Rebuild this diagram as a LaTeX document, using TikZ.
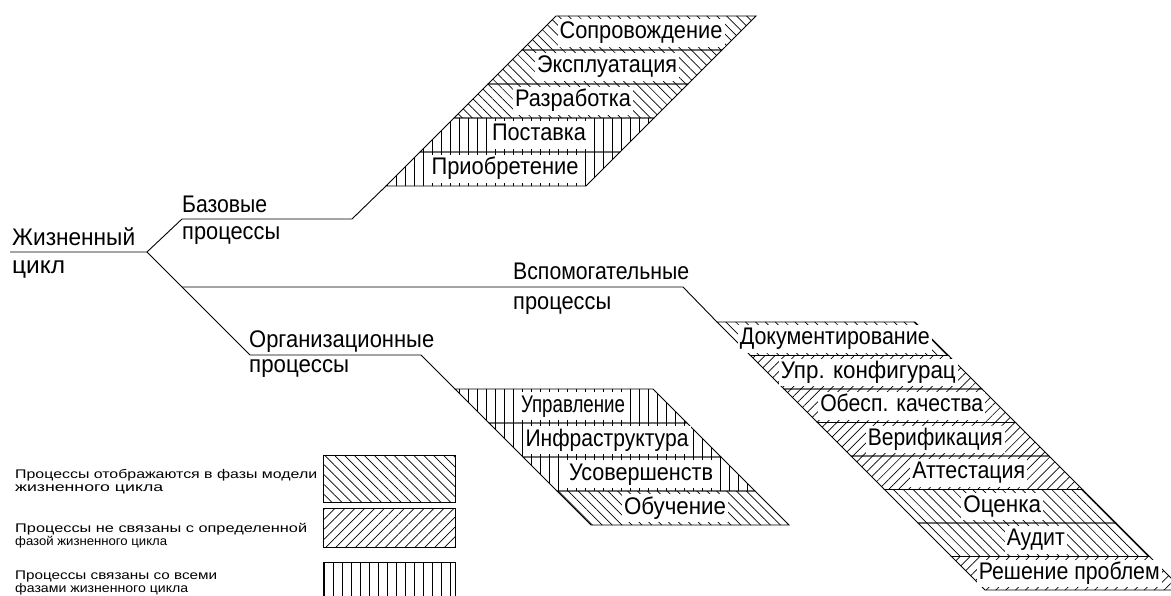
\documentclass[tikz,border=0pt]{standalone}
\usepackage{fontspec}
\usepackage{graphicx}
\setmainfont{Liberation Sans}
\usetikzlibrary{patterns.meta}
\newcommand\hfit[2]{\sbox0{#2}\pgfmathsetmacro\hfitf{(#1)/(\the\wd0)}\scalebox{\hfitf}[1]{\usebox0}}
\tikzset{
  nw/.style={pattern={Lines[angle=-45,distance=7pt,line width=0.7pt]}},
  ne/.style={pattern={Lines[angle=45,distance=7pt,line width=0.7pt]}},
  vl/.style={pattern={Lines[angle=90,distance=9pt,line width=0.7pt]}},
  edgeline/.style={line width=0.9pt,black},
  lbl/.style={anchor=base west,inner sep=0pt,font=\fontsize{24}{24}\selectfont},
  leg/.style={anchor=base west,inner sep=0pt,font=\fontsize{12.5}{12.5}\selectfont},
  bandtext/.style={fill=white,inner xsep=2pt,inner ysep=0pt,font=\fontsize{24}{24}\selectfont,text height=17pt,text depth=5pt},
}
% #1 name, #2 x top-left, #3 y top, #4 bottom shift, #5 height, #6 width, #7 pattern, #8 text, #9 text width
\newcommand\band[9]{%
  \coordinate (#1-tl) at (#2,#3);
  \path[#7] (#2,#3) -- ++(#6,0) -- ++(#4,#5) -- ++(-#6,0) -- cycle;
  \draw[edgeline] (#2,#3) -- ++(#6,0) -- ++(#4,#5) -- ++(-#6,0) -- cycle;
  \coordinate (#1-bl) at (#2+#4,#3+#5);
  \node[bandtext,minimum height=#5-6] (#1) at (#2+#6/2+#4/2+2,#3+#5/2) {\hfit{#9}{#8}};
}
\begin{document}
\begin{tikzpicture}[x=1pt,y=-1pt]
\useasboundingbox (0,0) rectangle (1171,596);
\clip (0,0) rectangle (1171,596);

% top stack (basic processes)
\band{T1}{556}{16}{-34}{34}{200}{nw}{Сопровождение}{163}
\band{T2}{522}{50}{-34}{34}{200}{nw}{Эксплуатация}{140}
\band{T3}{488}{84}{-34}{34}{200}{nw}{Разработка}{116}
\band{T4}{454}{118}{-34}{34}{200}{vl}{Поставка}{94}
\band{T5}{420}{152}{-34}{34}{200}{vl}{Приобретение}{147}

% middle stack (organizational processes)
\band{M1}{455}{389}{34}{34}{198}{vl}{Управление}{104}
\band{M2}{489}{423}{34}{34}{198}{vl}{Инфраструктура}{163}
\band{M3}{523}{457}{34}{34}{198}{vl}{Усовершенств}{144}
\band{M4}{557}{491}{34}{34}{198}{nw}{Обучение}{102}

% right stack (supporting processes)
\band{R1}{717}{322}{33.5}{33.5}{198}{nw}{Документирование}{190}
\band{R2}{750.5}{355.5}{33.5}{33.5}{198}{ne}{Упр. конфигурац}{175}
\band{R3}{784}{389}{33.5}{33.5}{198}{ne}{Обесп. качества}{163}
\band{R4}{817.5}{422.5}{33.5}{33.5}{198}{ne}{Верификация}{135}
\band{R5}{851}{456}{33.5}{33.5}{198}{ne}{Аттестация}{113}
\band{R6}{884.5}{489.5}{33.5}{33.5}{198}{nw}{Оценка}{78}
\band{R7}{918}{523}{33.5}{33.5}{198}{nw}{Аудит}{58}
\band{R8}{951.5}{556.5}{33.5}{33.5}{198}{ne}{Решение проблем}{181}

% tree
\coordinate (rootL) at (10,252);
\coordinate (root) at (147,252);
\coordinate (b1) at (182,219);
\coordinate (b2) at (352,219);
\coordinate (v1) at (182,287);
\coordinate (v2) at (683,287);
\coordinate (o1) at (250,355);
\coordinate (o2) at (421,355);
\draw[edgeline] (rootL) -- (root) -- (b1) -- (b2) -- (T5-bl);
\draw[edgeline] (root) -- (v1) -- (v2) -- (R1-tl);
\draw[edgeline] (v1) -- (o1) -- (o2) -- (M1-tl);

% labels
\node[lbl] (life1) at (12,246) {\hfit{123}{Жизненный}};
\node[lbl] (life2) at (12,274) {\hfit{53}{цикл}};
\node[lbl] (base1) at (182,213) {\hfit{85}{Базовые}};
\node[lbl] (base2) at (182,240) {\hfit{98}{процессы}};
\node[lbl] (sup1) at (513,280) {\hfit{176}{Вспомогательные}};
\node[lbl] (sup2) at (513,309) {\hfit{98}{процессы}};
\node[lbl] (org1) at (249,348) {\hfit{185}{Организационные}};
\node[lbl] (org2) at (249,373) {\hfit{100}{процессы}};

% legend
\node[leg] (lg1a) at (15,478) {\hfit{302}{Процессы отображаются в фазы модели}};
\node[leg] (lg1b) at (15,491) {\hfit{148}{жизненного цикла}};
\node[leg] (lg2a) at (15,532) {\hfit{292}{Процессы не связаны с определенной}};
\node[leg] (lg2b) at (15,545) {\hfit{152}{фазой жизненного цикла}};
\node[leg] (lg3a) at (15,579) {\hfit{202}{Процессы связаны со всеми}};
\node[leg] (lg3b) at (15,592) {\hfit{173}{фазами жизненного цикла}};
\draw[edgeline,nw] (323,455) rectangle (455,502);
\draw[edgeline,ne] (323,508) rectangle (455,547);
\draw[edgeline,vl] (323,562) rectangle (455,600);
\end{tikzpicture}
\end{document}
